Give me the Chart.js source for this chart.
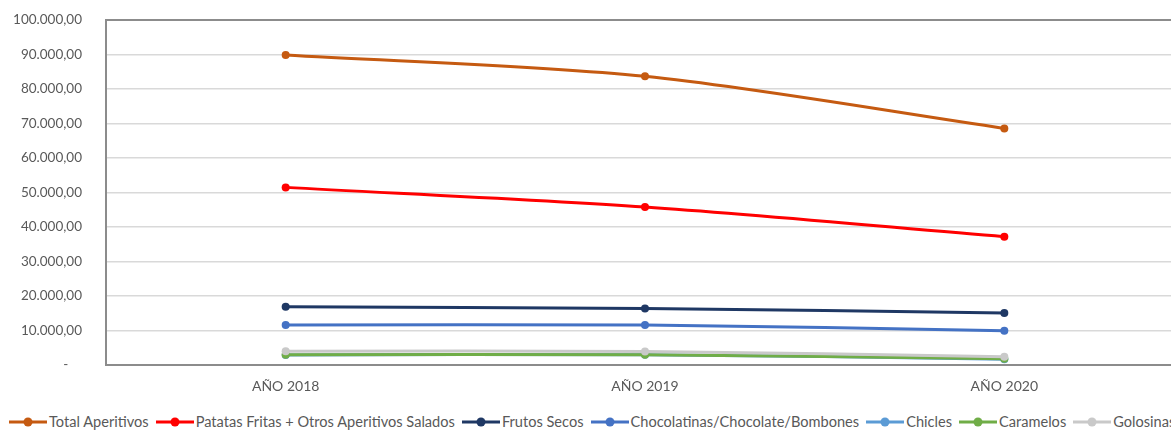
<!DOCTYPE html>
<html>
<head>
<meta charset="utf-8">
<script src="https://cdn.jsdelivr.net/npm/chart.js@4/dist/chart.umd.min.js"></script>
<style>
    html, body { margin: 0; padding: 0; background: #fff; overflow: hidden; }
    #wrap { position: relative; width: 1171px; height: 430px; overflow: hidden; }
    #box { position: absolute; left: 0; top: -12px; width: 1188px; height: 412px; }
    #legend {
        position: absolute; left: 9px; top: 413px;
        display: flex; white-space: nowrap;
        font-family: Lato, sans-serif; font-size: 14.6px; color: #595959;
    }
    .item { display: flex; align-items: center; margin-right: 7px; }
    .item canvas { margin-right: 2px; }
</style>
</head>
<body>
<div id="wrap">
    <div id="box"><canvas id="chart"></canvas></div>
    <div id="legend"></div>
</div>
<script>
    // Data
    const years = ['AÑO 2018', 'AÑO 2019', 'AÑO 2020'];
    const seriesNames = [
        'Total Aperitivos',
        'Patatas Fritas + Otros Aperitivos Salados',
        'Frutos Secos',
        'Chocolatinas/Chocolate/Bombones',
        'Chicles',
        'Caramelos',
        'Golosinas'
    ];
    const totalAperitivos = [89900, 83700, 68600];
    const patatasFritas = [51500, 45800, 37200];
    const frutosSecos = [16900, 16400, 15100];
    const chocolatinas = [11600, 11600, 9900];
    const chicles = [2900, 3000, 1700];
    const caramelos = [3000, 3000, 1800];
    const golosinas = [4000, 3900, 2400];
    const seriesColors = ['#C55A11', '#FF0000', '#1F3864', '#4472C4', '#5B9BD5', '#70AD47', '#C9C9C9'];
    const yTicks = [0, 10000, 20000, 30000, 40000, 50000, 60000, 70000, 80000, 90000, 100000];

    const seriesData = [totalAperitivos, patatasFritas, frutosSecos, chocolatinas, chicles, caramelos, golosinas];

    // es-ES style number: 90.000,00
    function fmt(v) {
        if (v === 0) return '-    ';
        const s = Math.round(v).toString().replace(/\B(?=(\d{3})+(?!\d))/g, '.');
        return s + ',00';
    }

    const datasets = seriesData.map((d, i) => ({
        label: seriesNames[i],
        data: d,
        borderColor: seriesColors[i],
        backgroundColor: seriesColors[i],
        borderWidth: 3,
        pointRadius: 4,
        pointBorderWidth: 0,
        pointBackgroundColor: seriesColors[i],
        tension: 0.3,
        // later series on top, like the spreadsheet
        order: seriesData.length - 1 - i
    }));

    new Chart(document.getElementById('chart'), {
        type: 'line',
        data: { labels: years, datasets: datasets },
        options: {
            responsive: true,
            maintainAspectRatio: false,
            animation: false,
            layout: { padding: { top: 7, left: 0, right: 0, bottom: 0 } },
            plugins: {
                legend: { display: false },
                tooltip: { enabled: false }
            },
            scales: {
                x: {
                    offset: true,
                    grid: { display: false, drawTicks: false },
                    border: { color: '#8C8C8C', width: 2 },
                    ticks: {
                        color: '#595959',
                        font: { family: 'Lato', size: 14 },
                        padding: 13
                    },
                    afterFit: (axis) => { axis.height = 35; }
                },
                y: {
                    min: 0,
                    max: 100000,
                    afterBuildTicks: (axis) => { axis.ticks = yTicks.map(v => ({ value: v })); },
                    grid: {
                        drawTicks: false,
                        color: (c) => c.tick && c.tick.value === 100000 ? '#8C8C8C' : '#D9D9D9',
                        lineWidth: (c) => c.tick && c.tick.value === 100000 ? 2 : 1.5
                    },
                    border: { color: '#8C8C8C', width: 2 },
                    ticks: {
                        color: '#595959',
                        font: { family: 'Lato', size: 13.5 },
                        padding: 24,
                        callback: (v) => fmt(v)
                    },
                    afterFit: (axis) => { axis.width = 106; }
                }
            }
        }
    });

    // HTML legend built from the same arrays
    const legend = document.getElementById('legend');
    seriesNames.forEach((name, i) => {
        const item = document.createElement('div');
        item.className = 'item';
        const c = document.createElement('canvas');
        c.width = 38; c.height = 12;
        const g = c.getContext('2d');
        g.strokeStyle = seriesColors[i];
        g.lineWidth = 3;
        g.beginPath(); g.moveTo(0, 6); g.lineTo(38, 6); g.stroke();
        g.fillStyle = seriesColors[i];
        g.beginPath(); g.arc(19, 6, 4.5, 0, Math.PI * 2); g.fill();
        const t = document.createElement('span');
        t.textContent = name;
        item.appendChild(c);
        item.appendChild(t);
        legend.appendChild(item);
    });
</script>
</body>
</html>
